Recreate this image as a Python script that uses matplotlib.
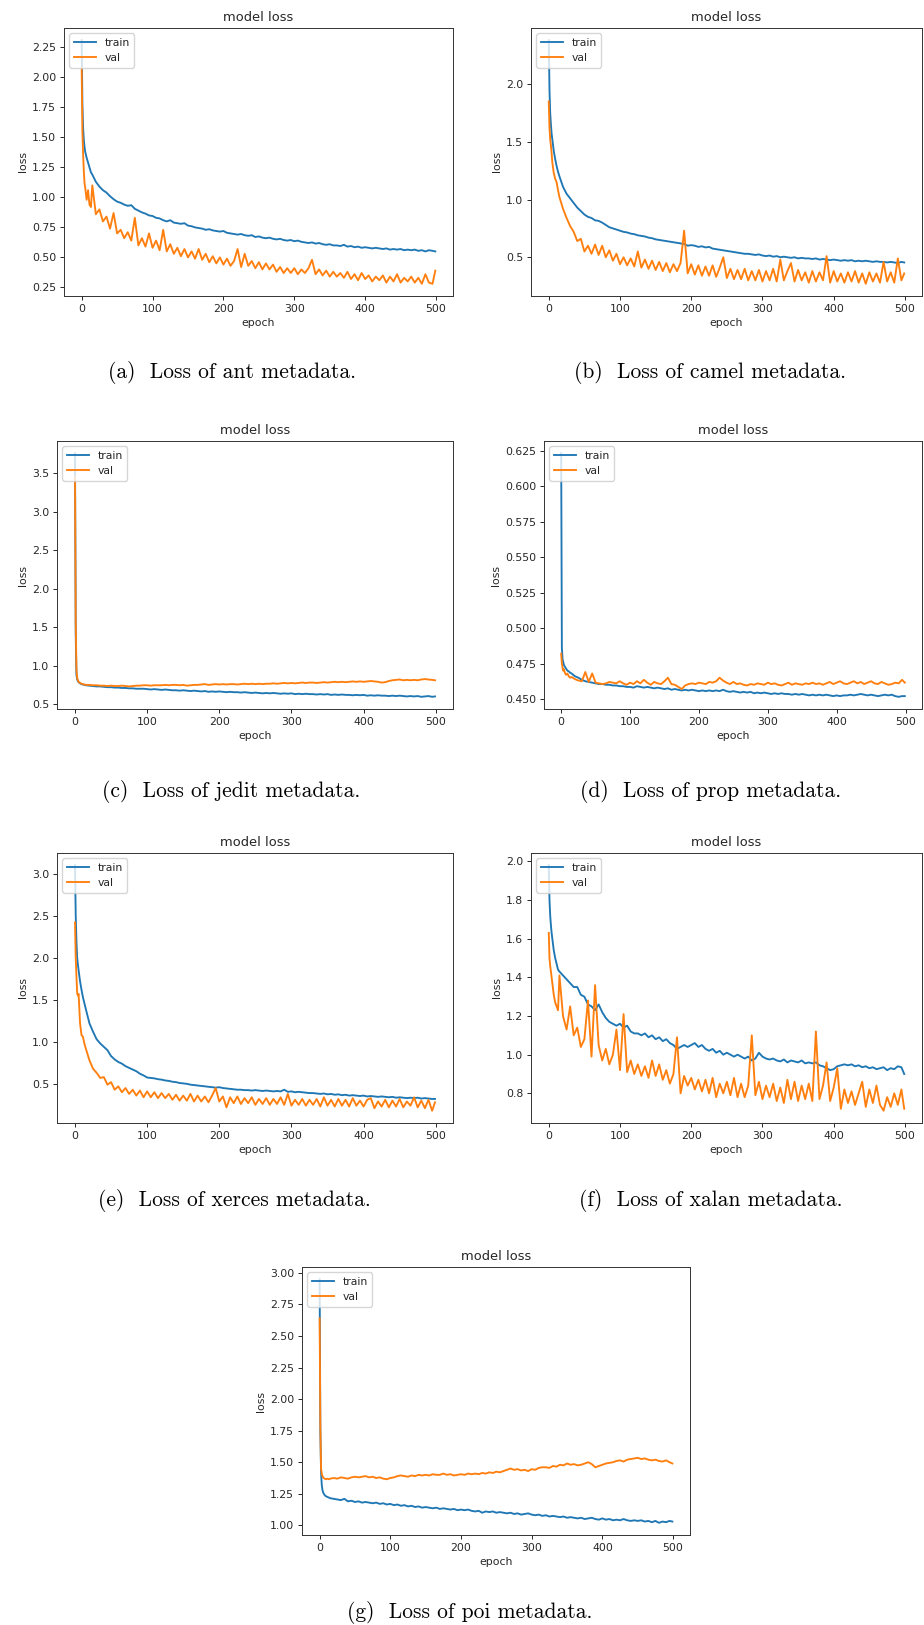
import matplotlib
matplotlib.use("Agg")
import matplotlib.pyplot as plt

# epochs at which the loss history was sampled
EPOCHS = [0, 1, 2, 3, 4, 5, 7, 9, 11, 13, 15,
          20, 25, 30, 35, 40, 45, 50, 55, 60, 65,
          70, 75, 80, 85, 90, 95, 100, 105, 110, 115,
          120, 125, 130, 135, 140, 145, 150, 155, 160, 165,
          170, 175, 180, 185, 190, 195, 200, 205, 210, 215,
          220, 225, 230, 235, 240, 245, 250, 255, 260, 265,
          270, 275, 280, 285, 290, 295, 300, 305, 310, 315,
          320, 325, 330, 335, 340, 345, 350, 355, 360, 365,
          370, 375, 380, 385, 390, 395, 400, 405, 410, 415,
          420, 425, 430, 435, 440, 445, 450, 455, 460, 465,
          470, 475, 480, 485, 490, 495, 499]

ANT_TRAIN = [2.31, 1.78, 1.58, 1.48, 1.42, 1.38, 1.33, 1.29, 1.25, 1.21, 1.19,
             1.13, 1.09, 1.06, 1.04, 1.01, 0.985, 0.965, 0.955, 0.94, 0.93,
             0.935, 0.905, 0.89, 0.875, 0.865, 0.85, 0.845, 0.83, 0.825, 0.81,
             0.80, 0.81, 0.79, 0.785, 0.78, 0.785, 0.765, 0.76, 0.75, 0.745,
             0.74, 0.73, 0.735, 0.725, 0.72, 0.715, 0.72, 0.705, 0.70, 0.695,
             0.69, 0.695, 0.685, 0.68, 0.685, 0.67, 0.675, 0.665, 0.66, 0.665,
             0.655, 0.65, 0.655, 0.645, 0.64, 0.645, 0.635, 0.64, 0.63, 0.625,
             0.62, 0.625, 0.615, 0.62, 0.61, 0.605, 0.61, 0.60, 0.60, 0.595,
             0.605, 0.59, 0.595, 0.585, 0.59, 0.58, 0.585, 0.58, 0.575, 0.58,
             0.575, 0.57, 0.575, 0.565, 0.57, 0.565, 0.57, 0.56, 0.565, 0.56,
             0.565, 0.555, 0.56, 0.55, 0.56, 0.555, 0.55]
ANT_VAL = [2.08, 1.55, 1.36, 1.22, 1.12, 1.08, 0.98, 1.06, 0.94, 0.92, 1.10,
           0.86, 0.90, 0.80, 0.84, 0.74, 0.87, 0.70, 0.73, 0.66, 0.71,
           0.64, 0.83, 0.60, 0.66, 0.59, 0.70, 0.58, 0.64, 0.56, 0.73,
           0.55, 0.61, 0.53, 0.58, 0.51, 0.57, 0.50, 0.55, 0.49, 0.57,
           0.48, 0.53, 0.46, 0.51, 0.45, 0.50, 0.44, 0.49, 0.43, 0.47,
           0.57, 0.42, 0.53, 0.43, 0.47, 0.41, 0.46, 0.40, 0.45, 0.40,
           0.44, 0.38, 0.42, 0.37, 0.41, 0.37, 0.41, 0.36, 0.40, 0.37,
           0.41, 0.48, 0.36, 0.40, 0.35, 0.39, 0.34, 0.38, 0.34, 0.37,
           0.33, 0.38, 0.32, 0.36, 0.31, 0.37, 0.32, 0.35, 0.30, 0.34,
           0.31, 0.35, 0.29, 0.34, 0.30, 0.36, 0.29, 0.33, 0.30, 0.34,
           0.29, 0.33, 0.28, 0.36, 0.29, 0.28, 0.39]

CAMEL_TRAIN = [2.38, 1.95, 1.75, 1.65, 1.57, 1.52, 1.42, 1.35, 1.29, 1.24, 1.20,
               1.11, 1.05, 1.01, 0.97, 0.93, 0.90, 0.87, 0.85, 0.84, 0.82,
               0.815, 0.80, 0.78, 0.76, 0.75, 0.74, 0.73, 0.72, 0.715, 0.705,
               0.70, 0.69, 0.685, 0.68, 0.67, 0.665, 0.655, 0.65, 0.645, 0.64,
               0.635, 0.63, 0.625, 0.62, 0.615, 0.60, 0.605, 0.60, 0.59, 0.595,
               0.585, 0.59, 0.575, 0.57, 0.565, 0.56, 0.555, 0.55, 0.545, 0.54,
               0.535, 0.53, 0.53, 0.525, 0.52, 0.525, 0.515, 0.51, 0.515, 0.505,
               0.51, 0.50, 0.505, 0.50, 0.495, 0.50, 0.49, 0.495, 0.49, 0.49,
               0.485, 0.49, 0.48, 0.485, 0.48, 0.475, 0.48, 0.475, 0.47, 0.475,
               0.47, 0.475, 0.465, 0.47, 0.465, 0.47, 0.465, 0.46, 0.465, 0.46,
               0.46, 0.455, 0.46, 0.455, 0.45, 0.46, 0.455]
CAMEL_VAL = [1.85, 1.62, 1.52, 1.47, 1.40, 1.32, 1.23, 1.18, 1.15, 1.08, 1.02,
             0.92, 0.84, 0.77, 0.72, 0.64, 0.66, 0.55, 0.60, 0.53, 0.61,
             0.52, 0.60, 0.50, 0.56, 0.47, 0.53, 0.44, 0.50, 0.43, 0.49,
             0.42, 0.55, 0.41, 0.48, 0.40, 0.47, 0.39, 0.46, 0.38, 0.45,
             0.37, 0.44, 0.38, 0.45, 0.73, 0.36, 0.44, 0.35, 0.43, 0.34,
             0.42, 0.34, 0.43, 0.33, 0.41, 0.50, 0.32, 0.40, 0.31, 0.39,
             0.31, 0.40, 0.30, 0.38, 0.30, 0.39, 0.29, 0.38, 0.30, 0.40,
             0.29, 0.48, 0.30, 0.38, 0.45, 0.29, 0.39, 0.30, 0.37, 0.28,
             0.38, 0.29, 0.37, 0.30, 0.51, 0.28, 0.38, 0.29, 0.36, 0.28,
             0.37, 0.29, 0.38, 0.28, 0.36, 0.27, 0.37, 0.29, 0.36, 0.28,
             0.46, 0.29, 0.37, 0.28, 0.49, 0.30, 0.36]

JEDIT_TRAIN = [3.76, 1.40, 0.88, 0.82, 0.80, 0.785, 0.77, 0.76, 0.755, 0.75, 0.745,
               0.74, 0.735, 0.73, 0.73, 0.725, 0.72, 0.72, 0.715, 0.715, 0.71,
               0.71, 0.705, 0.705, 0.70, 0.70, 0.70, 0.695, 0.69, 0.695, 0.69,
               0.685, 0.69, 0.685, 0.68, 0.68, 0.675, 0.68, 0.675, 0.67, 0.675,
               0.67, 0.665, 0.67, 0.66, 0.665, 0.66, 0.665, 0.66, 0.655, 0.66,
               0.655, 0.655, 0.65, 0.655, 0.65, 0.645, 0.65, 0.645, 0.64, 0.645,
               0.64, 0.645, 0.64, 0.635, 0.64, 0.635, 0.64, 0.63, 0.635, 0.63,
               0.635, 0.63, 0.63, 0.625, 0.63, 0.625, 0.63, 0.62, 0.625, 0.62,
               0.625, 0.62, 0.62, 0.615, 0.62, 0.615, 0.62, 0.61, 0.615, 0.61,
               0.615, 0.61, 0.61, 0.605, 0.61, 0.605, 0.61, 0.605, 0.60, 0.605,
               0.60, 0.605, 0.595, 0.60, 0.605, 0.595, 0.60]
JEDIT_VAL = [3.45, 1.55, 0.95, 0.84, 0.81, 0.79, 0.775, 0.765, 0.76, 0.755, 0.75,
             0.75, 0.745, 0.745, 0.74, 0.74, 0.735, 0.74, 0.735, 0.735, 0.74,
             0.735, 0.73, 0.735, 0.74, 0.74, 0.745, 0.745, 0.74, 0.745, 0.745,
             0.745, 0.75, 0.745, 0.75, 0.75, 0.745, 0.75, 0.74, 0.745, 0.75,
             0.75, 0.755, 0.76, 0.75, 0.755, 0.76, 0.755, 0.76, 0.755, 0.76,
             0.76, 0.755, 0.76, 0.765, 0.76, 0.765, 0.76, 0.765, 0.76, 0.765,
             0.765, 0.77, 0.765, 0.77, 0.775, 0.77, 0.775, 0.77, 0.775, 0.78,
             0.775, 0.78, 0.78, 0.775, 0.78, 0.785, 0.78, 0.785, 0.79, 0.785,
             0.79, 0.785, 0.79, 0.795, 0.79, 0.795, 0.79, 0.795, 0.80, 0.795,
             0.79, 0.78, 0.785, 0.80, 0.81, 0.815, 0.82, 0.81, 0.815, 0.81,
             0.815, 0.81, 0.82, 0.825, 0.82, 0.815, 0.81]

PROP_TRAIN = [0.6235, 0.486, 0.478, 0.476, 0.474, 0.473, 0.4715, 0.470, 0.4695, 0.4685, 0.468,
              0.466, 0.465, 0.4635, 0.4625, 0.462, 0.4615, 0.461, 0.4605, 0.4605, 0.460,
              0.460, 0.4595, 0.4595, 0.459, 0.459, 0.4585, 0.4585, 0.458, 0.459, 0.4585,
              0.458, 0.4585, 0.458, 0.4575, 0.458, 0.4575, 0.457, 0.4575, 0.4565, 0.457,
              0.4565, 0.456, 0.4565, 0.456, 0.4565, 0.456, 0.4555, 0.456, 0.4555, 0.456,
              0.4555, 0.456, 0.4555, 0.4565, 0.4555, 0.455, 0.4555, 0.455, 0.4545, 0.455,
              0.4545, 0.455, 0.454, 0.4545, 0.454, 0.4545, 0.454, 0.4535, 0.454, 0.4535,
              0.454, 0.4535, 0.4535, 0.453, 0.4535, 0.453, 0.4535, 0.453, 0.4525, 0.453,
              0.4525, 0.453, 0.4525, 0.453, 0.4525, 0.452, 0.4525, 0.452, 0.4525, 0.4525,
              0.453, 0.4525, 0.453, 0.4535, 0.453, 0.4525, 0.453, 0.4525, 0.452, 0.4525,
              0.453, 0.4525, 0.453, 0.452, 0.4515, 0.452, 0.452]
PROP_VAL = [0.482, 0.475, 0.472, 0.470, 0.471, 0.469, 0.467, 0.468, 0.466, 0.465, 0.4655,
            0.464, 0.463, 0.4625, 0.469, 0.462, 0.468, 0.4615, 0.461, 0.4605, 0.461,
            0.462, 0.4615, 0.461, 0.4625, 0.461, 0.460, 0.4615, 0.4605, 0.4625, 0.461,
            0.4635, 0.4615, 0.460, 0.462, 0.461, 0.4605, 0.4625, 0.465, 0.4605, 0.460,
            0.4585, 0.457, 0.4595, 0.4605, 0.461, 0.4605, 0.4615, 0.461, 0.4605, 0.462,
            0.4615, 0.4625, 0.465, 0.463, 0.4615, 0.4605, 0.462, 0.4605, 0.461, 0.460,
            0.4595, 0.4605, 0.460, 0.461, 0.4605, 0.460, 0.4615, 0.4605, 0.461, 0.460,
            0.4595, 0.4605, 0.4615, 0.460, 0.461, 0.4605, 0.460, 0.461, 0.4605, 0.4615,
            0.4605, 0.461, 0.460, 0.461, 0.462, 0.4605, 0.4615, 0.4625, 0.461, 0.4605,
            0.4615, 0.4625, 0.461, 0.462, 0.4605, 0.4615, 0.4625, 0.461, 0.4605, 0.462,
            0.461, 0.460, 0.4605, 0.4615, 0.461, 0.4635, 0.4615]

XERCES_TRAIN = [3.10, 2.50, 2.20, 2.00, 1.92, 1.85, 1.72, 1.62, 1.53, 1.46, 1.39,
                1.22, 1.12, 1.03, 0.98, 0.94, 0.90, 0.83, 0.79, 0.76, 0.74,
                0.71, 0.69, 0.67, 0.65, 0.62, 0.60, 0.575, 0.57, 0.565, 0.555,
                0.55, 0.54, 0.535, 0.525, 0.52, 0.51, 0.505, 0.50, 0.49, 0.485,
                0.48, 0.475, 0.47, 0.465, 0.46, 0.455, 0.46, 0.45, 0.445, 0.44,
                0.435, 0.43, 0.43, 0.425, 0.425, 0.42, 0.425, 0.42, 0.415, 0.42,
                0.415, 0.41, 0.415, 0.41, 0.43, 0.405, 0.41, 0.40, 0.405, 0.40,
                0.395, 0.39, 0.39, 0.385, 0.38, 0.385, 0.375, 0.38, 0.37, 0.375,
                0.365, 0.37, 0.36, 0.365, 0.36, 0.355, 0.36, 0.35, 0.355, 0.35,
                0.345, 0.35, 0.345, 0.34, 0.345, 0.335, 0.34, 0.335, 0.33, 0.335,
                0.33, 0.335, 0.325, 0.33, 0.325, 0.32, 0.32]
XERCES_VAL = [2.42, 2.00, 1.78, 1.58, 1.55, 1.57, 1.22, 1.08, 1.06, 0.98, 0.92,
              0.78, 0.68, 0.63, 0.57, 0.58, 0.49, 0.52, 0.43, 0.47, 0.40,
              0.45, 0.38, 0.43, 0.36, 0.42, 0.34, 0.41, 0.34, 0.40, 0.33,
              0.39, 0.33, 0.38, 0.31, 0.37, 0.30, 0.36, 0.30, 0.38, 0.29,
              0.36, 0.29, 0.35, 0.28, 0.36, 0.45, 0.29, 0.35, 0.22, 0.34,
              0.27, 0.35, 0.26, 0.33, 0.27, 0.34, 0.25, 0.32, 0.26, 0.33,
              0.25, 0.32, 0.26, 0.34, 0.25, 0.38, 0.24, 0.31, 0.25, 0.32,
              0.24, 0.31, 0.25, 0.32, 0.23, 0.34, 0.24, 0.31, 0.23, 0.32,
              0.24, 0.31, 0.23, 0.33, 0.24, 0.30, 0.23, 0.31, 0.33, 0.21,
              0.29, 0.23, 0.31, 0.22, 0.30, 0.23, 0.32, 0.22, 0.29, 0.24,
              0.34, 0.22, 0.30, 0.21, 0.31, 0.18, 0.28]

XALAN_TRAIN = [1.98, 1.80, 1.72, 1.67, 1.63, 1.60, 1.54, 1.50, 1.47, 1.44, 1.43,
               1.41, 1.39, 1.37, 1.35, 1.35, 1.31, 1.30, 1.26, 1.25, 1.23,
               1.26, 1.22, 1.19, 1.17, 1.16, 1.15, 1.16, 1.14, 1.15, 1.12,
               1.11, 1.11, 1.10, 1.11, 1.09, 1.10, 1.08, 1.09, 1.07, 1.08,
               1.06, 1.05, 1.03, 1.04, 1.05, 1.04, 1.05, 1.06, 1.04, 1.05,
               1.03, 1.02, 1.03, 1.01, 1.02, 1.00, 1.01, 1.00, 0.99, 1.00,
               0.99, 0.98, 0.99, 0.97, 0.98, 1.01, 0.99, 0.98, 0.975, 0.98,
               0.97, 0.965, 0.975, 0.96, 0.97, 0.965, 0.96, 0.97, 0.955, 0.96,
               0.955, 0.96, 0.945, 0.94, 0.93, 0.92, 0.925, 0.94, 0.945, 0.95,
               0.945, 0.95, 0.94, 0.945, 0.935, 0.94, 0.93, 0.935, 0.925, 0.93,
               0.935, 0.92, 0.93, 0.925, 0.94, 0.935, 0.90]
XALAN_VAL = [1.63, 1.50, 1.46, 1.43, 1.40, 1.37, 1.31, 1.27, 1.25, 1.23, 1.41,
             1.20, 1.13, 1.25, 1.10, 1.14, 1.04, 1.08, 1.28, 0.99, 1.36,
             1.05, 0.97, 1.03, 0.95, 1.00, 1.13, 0.92, 1.21, 0.91, 0.97,
             0.90, 0.95, 0.89, 0.94, 0.88, 0.97, 0.89, 0.95, 0.87, 0.92,
             0.85, 0.90, 1.09, 0.80, 0.89, 0.84, 0.88, 0.82, 0.87, 0.81,
             0.87, 0.80, 0.88, 0.78, 0.85, 0.80, 0.86, 0.79, 0.88, 0.78,
             0.85, 0.78, 0.84, 1.10, 0.79, 0.86, 0.77, 0.84, 0.78, 0.85,
             0.76, 0.83, 0.75, 0.87, 0.77, 0.86, 0.76, 0.84, 0.77, 0.85,
             0.76, 1.12, 0.77, 0.84, 0.96, 0.76, 0.83, 0.93, 0.72, 0.82,
             0.75, 0.81, 0.74, 0.80, 0.86, 0.73, 0.82, 0.75, 0.84, 0.74,
             0.71, 0.78, 0.73, 0.80, 0.74, 0.82, 0.72]

POI_TRAIN = [2.95, 1.75, 1.42, 1.32, 1.28, 1.26, 1.24, 1.23, 1.225, 1.22, 1.215,
             1.21, 1.205, 1.20, 1.21, 1.19, 1.195, 1.185, 1.19, 1.18, 1.185,
             1.18, 1.175, 1.18, 1.17, 1.175, 1.165, 1.17, 1.16, 1.165, 1.155,
             1.16, 1.15, 1.155, 1.145, 1.15, 1.14, 1.145, 1.14, 1.135, 1.14,
             1.13, 1.135, 1.13, 1.125, 1.13, 1.12, 1.125, 1.12, 1.125, 1.115,
             1.11, 1.115, 1.10, 1.11, 1.105, 1.11, 1.10, 1.105, 1.10, 1.095,
             1.10, 1.09, 1.095, 1.085, 1.09, 1.095, 1.085, 1.08, 1.085, 1.075,
             1.08, 1.07, 1.075, 1.07, 1.065, 1.07, 1.06, 1.065, 1.06, 1.055,
             1.06, 1.05, 1.055, 1.06, 1.05, 1.045, 1.055, 1.045, 1.05, 1.04,
             1.045, 1.04, 1.05, 1.04, 1.035, 1.04, 1.035, 1.04, 1.03, 1.035,
             1.025, 1.035, 1.02, 1.03, 1.025, 1.035, 1.03]
POI_VAL = [2.64, 1.80, 1.45, 1.41, 1.39, 1.38, 1.37, 1.365, 1.37, 1.365, 1.37,
           1.375, 1.37, 1.38, 1.375, 1.37, 1.38, 1.385, 1.38, 1.385, 1.39,
           1.38, 1.385, 1.375, 1.38, 1.37, 1.365, 1.375, 1.38, 1.39, 1.395,
           1.39, 1.385, 1.395, 1.39, 1.40, 1.395, 1.40, 1.395, 1.405, 1.40,
           1.40, 1.41, 1.40, 1.405, 1.395, 1.40, 1.405, 1.40, 1.41, 1.405,
           1.41, 1.405, 1.415, 1.41, 1.42, 1.415, 1.425, 1.42, 1.43, 1.44,
           1.45, 1.44, 1.445, 1.435, 1.44, 1.43, 1.445, 1.44, 1.455, 1.46,
           1.46, 1.455, 1.47, 1.465, 1.48, 1.475, 1.49, 1.48, 1.485, 1.475,
           1.48, 1.49, 1.50, 1.485, 1.46, 1.47, 1.48, 1.49, 1.495, 1.50,
           1.51, 1.515, 1.505, 1.52, 1.525, 1.53, 1.535, 1.525, 1.53, 1.52,
           1.515, 1.52, 1.51, 1.505, 1.515, 1.50, 1.49]

CAPTIONS = ["(a)  Loss of ant metadata.", "(b)  Loss of camel metadata.",
            "(c)  Loss of jedit metadata.", "(d)  Loss of prop metadata.",
            "(e)  Loss of xerces metadata.", "(f)  Loss of xalan metadata.",
            "(g)  Loss of poi metadata."]

W, H = 924, 1625

# axes boxes in pixels: left, top, right, bottom ; caption centre x, y
panels = [
    (ANT_TRAIN, ANT_VAL, (64, 28, 453, 296), (232, 373)),
    (CAMEL_TRAIN, CAMEL_VAL, (531, 28, 922, 296), (710, 373)),
    (JEDIT_TRAIN, JEDIT_VAL, (57, 441, 453, 709), (231, 792)),
    (PROP_TRAIN, PROP_VAL, (544, 441, 922, 709), (711, 792)),
    (XERCES_TRAIN, XERCES_VAL, (57, 853, 453, 1123), (234, 1200)),
    (XALAN_TRAIN, XALAN_VAL, (531, 853, 922, 1123), (711, 1200)),
    (POI_TRAIN, POI_VAL, (302, 1267, 690, 1535), (470, 1612)),
]

plt.rcParams.update({
    "font.size": 7.85,
    "axes.linewidth": 0.7,
    "xtick.major.size": 2.8,
    "ytick.major.size": 2.8,
    "xtick.major.width": 0.7,
    "ytick.major.width": 0.7,
    "xtick.major.pad": 2.8,
    "ytick.major.pad": 2.8,
    "axes.titlepad": 4.7,
    "axes.labelpad": 3.1,
    "text.color": "#262626",
    "xtick.color": "#262626",
    "ytick.color": "#262626",
    "axes.labelcolor": "#262626",
    "axes.edgecolor": "#333333",
})

fig = plt.figure(figsize=(W / 100, H / 100), dpi=100)

for (train, val, box, cap), caption in zip(panels, CAPTIONS):
    l, t, r, b = box
    ax = fig.add_axes([l / W, 1 - b / H, (r - l) / W, (b - t) / H])
    ax.plot(EPOCHS, train, color="#1f77b4", lw=1.35, label="train")
    ax.plot(EPOCHS, val, color="#ff7f0e", lw=1.35, label="val")
    ax.set_title("model loss", fontsize=9.4)
    ax.set_xlabel("epoch")
    ax.set_ylabel("loss")
    ax.set_xticks([0, 100, 200, 300, 400, 500])
    ax.legend(loc="upper left")
    fig.text(cap[0] / W, 1 - cap[1] / H, caption, family="cmr10",
             fontsize=15.5, ha="center", va="center", color="black")

fig.savefig("out.png", dpi=100)
